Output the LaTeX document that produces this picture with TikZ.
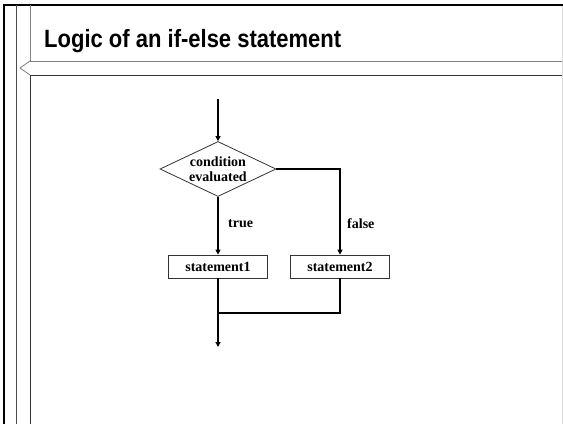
\documentclass[tikz,border=0pt]{standalone}
\usepackage{fontspec}
\setmainfont{Liberation Serif}
\newfontfamily\titlefont[FakeStretch=0.88]{Liberation Sans}
\usetikzlibrary{arrows.meta, shapes.geometric}

\begin{document}
\begin{tikzpicture}[x=1pt, y=-1pt,
  flow/.style={line width=1.8pt, -{Triangle[length=5pt, width=5pt]}},
  mergeline/.style={line width=1.8pt},
  block/.style={draw=black!80, line width=0.8pt, minimum width=99pt, minimum height=23pt, inner sep=0pt, font=\fontsize{14}{16}\selectfont\bfseries},
  decision/.style={draw=black!80, line width=0.8pt, diamond, aspect=2.1, inner sep=0pt, align=center, font=\fontsize{14}{15}\selectfont\bfseries},
  label/.style={font=\fontsize{14}{16}\selectfont\bfseries},
  frame/.style={line width=0.8pt, black!70}
]
  \useasboundingbox (0,0) rectangle (563,424);

  % Slide frame
  \draw[line width=2pt] (4,424) -- (4,5) -- (563,5);
  \draw[frame] (16,5) -- (16,424);
  \draw[frame, black!50] (30,5) -- (30,61) -- (563,61);
  \draw[frame, black!50] (30,61) -- (20,68) -- (30,75);
  \draw[frame, black!80] (30,424) -- (30,75) -- (563,75);
  \draw[black!15] (562,6) -- (562,424);

  % Title
  \node[anchor=base west, inner sep=0pt, font=\titlefont\bfseries\fontsize{25}{29}\selectfont] (title) at (44,47) {Logic of an if-else statement};

  % Flowchart
  \coordinate (start) at (218,99);
  \node[decision, minimum width=116pt, minimum height=55pt] (cond) at (218,169) {condition\\evaluated};
  \node[block] (stmA) at (218,266.5) {statement1};
  \node[block] (stmB) at (340,266.5) {statement2};
  \coordinate (merge) at (218,313);
  \coordinate (stop) at (218,347);

  \draw[flow] (start) -- (cond.north);
  \draw[flow] (cond.south) -- node[label, right, pos=0.47, xshift=6pt] {true} (stmA.north);
  \draw[flow] (cond.east) -| node[label, right, pos=0.82, xshift=3pt] {false} (stmB.north);
  \draw[mergeline] (stmB.south) |- (merge);
  \draw[flow] (stmA.south) -- (stop);

\end{tikzpicture}
\end{document}
